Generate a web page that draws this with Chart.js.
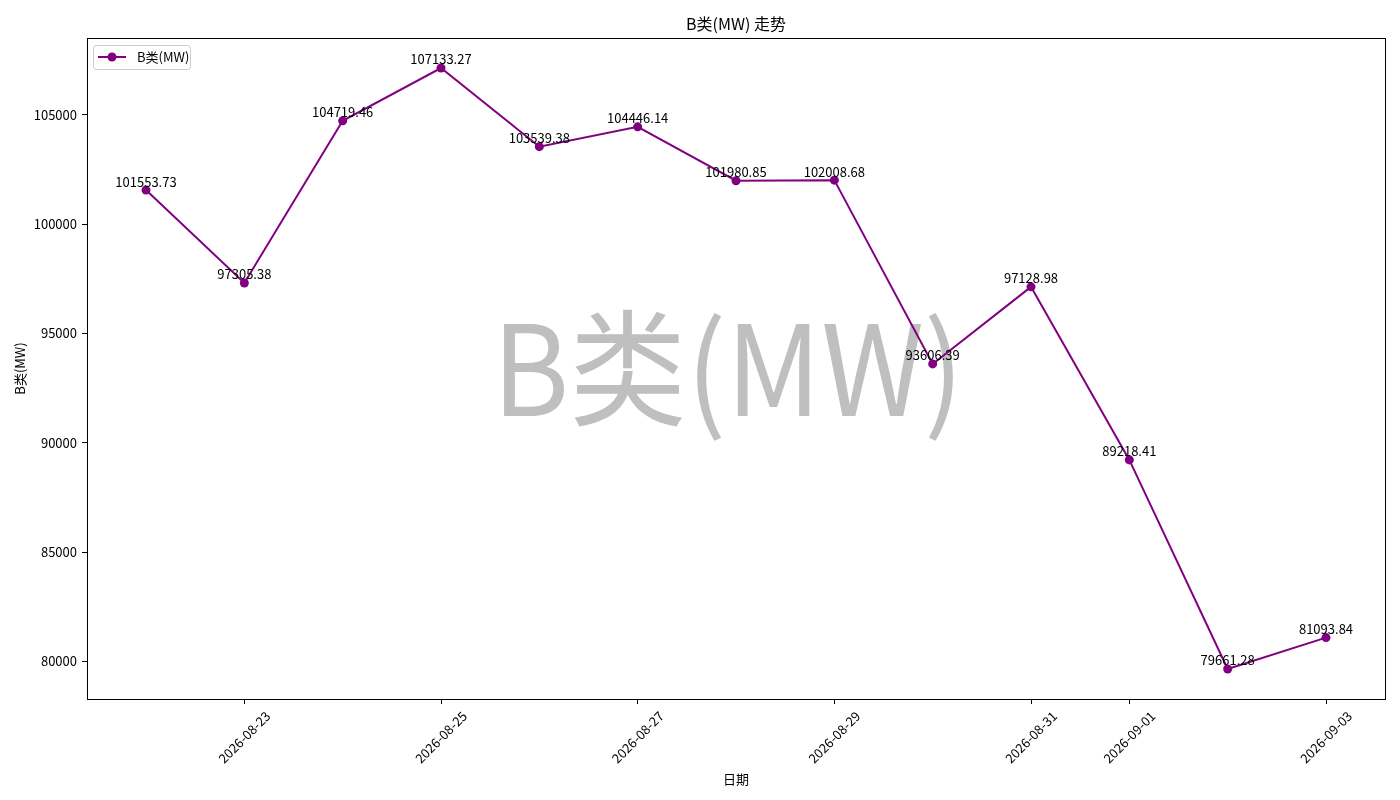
<!DOCTYPE html>
<html>
<head>
<meta charset="utf-8">
<script src="https://cdn.jsdelivr.net/npm/chart.js@4.4.1/dist/chart.umd.min.js"></script>
<style>
  html, body { margin:0; padding:0; background:#fff; }
  #wrap { width:1400px; height:800px; }
</style>
</head>
<body>
<div id="wrap"><canvas id="c" width="1400" height="800"></canvas></div>
<script>
(() => {
  const DATES = ['2026-08-22','2026-08-23','2026-08-24','2026-08-25','2026-08-26','2026-08-27','2026-08-28',
                 '2026-08-29','2026-08-30','2026-08-31','2026-09-01','2026-09-02','2026-09-03'];
  const VALUES = [101553.73, 97305.38, 104719.46, 107133.27, 103539.38, 104446.14, 101980.85,
                  102008.68, 93606.39, 97128.98, 89218.41, 79661.28, 81093.84];
  const TICK_DATES = ['2026-08-23','2026-08-25','2026-08-27','2026-08-29','2026-08-31','2026-09-01','2026-09-03'];
  const Y_TICKS = [80000, 85000, 90000, 95000, 100000, 105000];

  const SERIES = 'B类(MW)';
  const FONT = "'Noto Sans CJK SC', 'DejaVu Sans', sans-serif";
  const PURPLE = '#800080';

  // matplotlib-like 5% margins
  const vMin = Math.min(...VALUES), vMax = Math.max(...VALUES);
  const yPad = (vMax - vMin) * 0.05;
  const xPad = (DATES.length - 1) * 0.05;

  const decor = {
    id: 'decor',
    beforeDatasetsDraw(chart) {
      const {ctx, chartArea: a} = chart;
      ctx.save();
      ctx.fillStyle = 'rgba(128,128,128,0.5)';
      ctx.font = '126px ' + FONT;
      ctx.textAlign = 'center';
      ctx.textBaseline = 'middle';
      ctx.translate((a.left + a.right) / 2 - 8, (a.top + a.bottom) / 2);
      ctx.scale(0.93, 1);
      ctx.fillText(SERIES, 0, 0);
      ctx.restore();
    },
    afterDatasetsDraw(chart) {
      const {ctx, chartArea: a} = chart;
      const meta = chart.getDatasetMeta(0);
      ctx.save();
      // title
      ctx.fillStyle = '#000';
      ctx.font = '16px ' + FONT;
      ctx.textAlign = 'center';
      ctx.textBaseline = 'middle';
      ctx.fillText(SERIES + ' 走势', (a.left + a.right) / 2, 24);

      // value labels
      ctx.font = '13px ' + FONT;
      ctx.textBaseline = 'bottom';
      meta.data.forEach((pt, i) => {
        ctx.fillText(VALUES[i].toFixed(2), pt.x, pt.y - 2);
      });

      // frame
      ctx.strokeStyle = '#000';
      ctx.lineWidth = 1;
      ctx.strokeRect(Math.round(a.left) + 0.5, Math.round(a.top) + 0.5,
                     Math.round(a.right - a.left), Math.round(a.bottom - a.top));

      // legend
      const lx = a.left + 6, ly = a.top + 7, lw = 97, lh = 24;
      ctx.beginPath();
      ctx.roundRect(lx + 0.5, ly + 0.5, lw, lh, 3);
      ctx.fillStyle = 'rgba(255,255,255,0.8)';
      ctx.fill();
      ctx.strokeStyle = '#cccccc';
      ctx.stroke();
      const cy = ly + lh / 2;
      ctx.strokeStyle = PURPLE;
      ctx.lineWidth = 2;
      ctx.beginPath();
      ctx.moveTo(lx + 5, cy); ctx.lineTo(lx + 33, cy);
      ctx.stroke();
      ctx.fillStyle = PURPLE;
      ctx.beginPath();
      ctx.arc(lx + 19, cy, 4.5, 0, Math.PI * 2);
      ctx.fill();
      ctx.fillStyle = '#000';
      ctx.font = '13px ' + FONT;
      ctx.textAlign = 'left';
      ctx.textBaseline = 'middle';
      ctx.fillText(SERIES, lx + 44, cy);

      // x tick labels, rotated 45 and centred on tick like matplotlib
      const xs = chart.scales.x;
      ctx.textAlign = 'center';
      TICK_DATES.forEach(d => {
        const px = xs.getPixelForValue(DATES.indexOf(d));
        const w = ctx.measureText(d).width, h = 13;
        const bh = (w + h) * Math.SQRT1_2;
        ctx.save();
        ctx.translate(px, a.bottom + 10 + bh / 2);
        ctx.rotate(-Math.PI / 4);
        ctx.fillText(d, 0, 0);
        ctx.restore();
      });

      // axis labels
      ctx.fillText('日期', (a.left + a.right) / 2, 779);
      ctx.save();
      ctx.translate(20, (a.top + a.bottom) / 2);
      ctx.rotate(-Math.PI / 2);
      ctx.fillText(SERIES, 0, 0);
      ctx.restore();
      ctx.restore();
    }
  };

  new Chart(document.getElementById('c'), {
    type: 'line',
    data: {
      datasets: [{
        label: SERIES,
        data: VALUES.map((v, i) => ({x: i, y: v})),
        borderColor: PURPLE,
        backgroundColor: PURPLE,
        borderWidth: 2,
        pointRadius: 4.5,
        pointBorderWidth: 0,
        pointBackgroundColor: PURPLE,
        tension: 0
      }]
    },
    options: {
      responsive: false,
      animation: false,
      layout: { padding: { left: 0, right: 15, top: 38, bottom: 0 } },
      plugins: {
        legend: { display: false },
        tooltip: { enabled: false },
        title: { display: false }
      },
      scales: {
        x: {
          type: 'linear',
          min: -xPad,
          max: DATES.length - 1 + xPad,
          afterBuildTicks: s => { s.ticks = TICK_DATES.map(d => ({value: DATES.indexOf(d)})); },
          afterFit: s => { s.height = 101; },
          ticks: { display: false },
          grid: { drawOnChartArea: false, drawTicks: true, tickLength: 5, color: '#000' },
          border: { display: true, color: '#000', width: 1 }
        },
        y: {
          min: vMin - yPad,
          max: vMax + yPad,
          afterBuildTicks: s => { s.ticks = Y_TICKS.map(v => ({value: v})); },
          afterFit: s => { s.width = 87; },
          ticks: {
            color: '#000',
            padding: 5,
            font: { family: FONT, size: 13 },
            callback: v => String(v)
          },
          grid: { drawOnChartArea: false, drawTicks: true, tickLength: 5, color: '#000' },
          border: { display: true, color: '#000', width: 1 }
        }
      }
    },
    plugins: [decor]
  });
})();
</script>
</body>
</html>
